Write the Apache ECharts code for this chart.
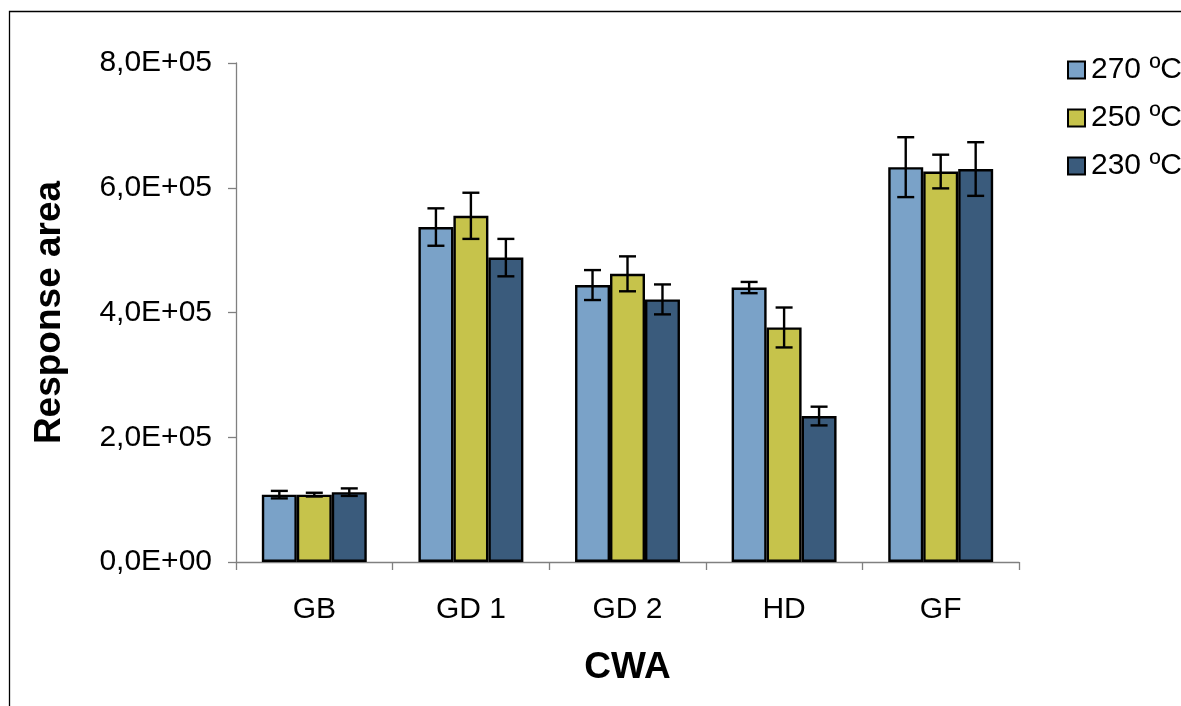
<!DOCTYPE html>
<html>
<head>
<meta charset="utf-8">
<script src="https://cdn.jsdelivr.net/npm/echarts@6/dist/echarts.min.js"></script>
<style>
  html, body { margin: 0; padding: 0; background: #fff; }
  #chart { width: 1181px; height: 706px; }
</style>
</head>
<body>
<div id="chart"></div>
<script>
// Compounds (chemical warfare agents) on the category axis
const categories = ['GB', 'GD 1', 'GD 2', 'HD', 'GF'];
// Injection temperatures
const seriesNames = ['270 ºC', '250 ºC', '230 ºC'];
// Mean response area per temperature
const values270 = [108000, 537000, 444000, 440000, 633000];
const values250 = [108000, 555000, 462000, 376000, 626000];
const values230 = [112000, 488000, 421000, 234000, 630000];
// Standard deviations (error bars)
const err270 = [6000, 30000, 24000, 9000, 48000];
const err250 = [3000, 37000, 28000, 32000, 27000];
const err230 = [6000, 30000, 24000, 15000, 43000];
// Value axis ticks
const yTicks = [0, 200000, 400000, 600000, 800000];

const colors = ['#7AA2C8', '#C6C34B', '#3A5B7C'];
const valueSets = [values270, values250, values230];
const errSets = [err270, err250, err230];
const catGap = 0.33;
const FONT = 'Liberation Sans, Arial, sans-serif';

function fmtSci(v) {
  if (v === 0) return '0,0E+00';
  return (v / 1e5).toFixed(1).replace('.', ',') + 'E+05';
}

const series = [];
seriesNames.forEach((name, i) => {
  series.push({
    name: name,
    type: 'bar',
    data: valueSets[i],
    barGap: '0%',
    barCategoryGap: (catGap * 100) + '%',
    itemStyle: { color: colors[i], borderColor: '#000', borderWidth: 2.4 },
    emphasis: { disabled: true }
  });
});
seriesNames.forEach((name, i) => {
  series.push({
    type: 'custom',
    silent: true,
    z: 5,
    data: categories.map((c, k) => [k, valueSets[i][k] - errSets[i][k], valueSets[i][k] + errSets[i][k]]),
    renderItem: function (params, api) {
      const k = api.value(0);
      const catW = api.size([1, 0])[0];
      const barW = catW * (1 - catGap) / 3;
      const lo = api.coord([k, api.value(1)]);
      const hi = api.coord([k, api.value(2)]);
      const x = lo[0] + (i - 1) * barW;
      const cap = 8.5;
      const style = { stroke: '#000', lineWidth: 2.4, fill: null };
      return {
        type: 'group',
        children: [
          { type: 'line', shape: { x1: x, y1: hi[1], x2: x, y2: lo[1] }, style: style },
          { type: 'line', shape: { x1: x - cap, y1: hi[1], x2: x + cap, y2: hi[1] }, style: style },
          { type: 'line', shape: { x1: x - cap, y1: lo[1], x2: x + cap, y2: lo[1] }, style: style }
        ]
      };
    }
  });
});

const chart = echarts.init(document.getElementById('chart'));
chart.setOption({
  animation: false,
  backgroundColor: '#fff',
  textStyle: { fontFamily: FONT },
  grid: { left: 236, right: 162, top: 63, bottom: 144 },
  legend: {
    data: seriesNames,
    orient: 'vertical',
    left: 1062,
    top: 50,
    icon: 'rect',
    itemWidth: 17,
    itemHeight: 17,
    itemGap: 18,
    selectedMode: false,
    itemStyle: { borderColor: '#000', borderWidth: 2 },
    textStyle: { fontSize: 30, lineHeight: 30, color: '#000', fontFamily: FONT, padding: [0, 0, 0, 1] }
  },
  xAxis: {
    type: 'category',
    data: categories,
    boundaryGap: true,
    name: 'CWA',
    nameLocation: 'middle',
    nameGap: 87,
    nameTextStyle: { fontSize: 37, fontWeight: 'bold', color: '#000', fontFamily: FONT },
    axisLine: { lineStyle: { color: '#808080', width: 1.3 } },
    axisTick: { show: true, alignWithLabel: false, length: 8, lineStyle: { color: '#808080', width: 1.3 } },
    axisLabel: { fontSize: 30, color: '#000', margin: 33, fontFamily: FONT }
  },
  yAxis: {
    type: 'value',
    min: 0,
    max: 800000,
    interval: 200000,
    name: 'Response area',
    nameLocation: 'middle',
    nameGap: 168,
    nameRotate: 90,
    nameTextStyle: { fontSize: 37, fontWeight: 'bold', color: '#000', fontFamily: FONT },
    splitLine: { show: false },
    axisLine: { show: true, lineStyle: { color: '#808080', width: 1.3 } },
    axisTick: { show: true, length: 8, lineStyle: { color: '#808080', width: 1.3 } },
    axisLabel: {
      fontSize: 30, color: '#000', margin: 24, fontFamily: FONT,
      formatter: v => yTicks.includes(v) ? fmtSci(v) : ''
    }
  },
  graphic: [{
    type: 'rect',
    shape: { x: 9.5, y: 11.5, width: 1300, height: 900 },
    style: { fill: null, stroke: '#000', lineWidth: 1.3 },
    silent: true
  }],
  series: series
});
</script>
</body>
</html>
